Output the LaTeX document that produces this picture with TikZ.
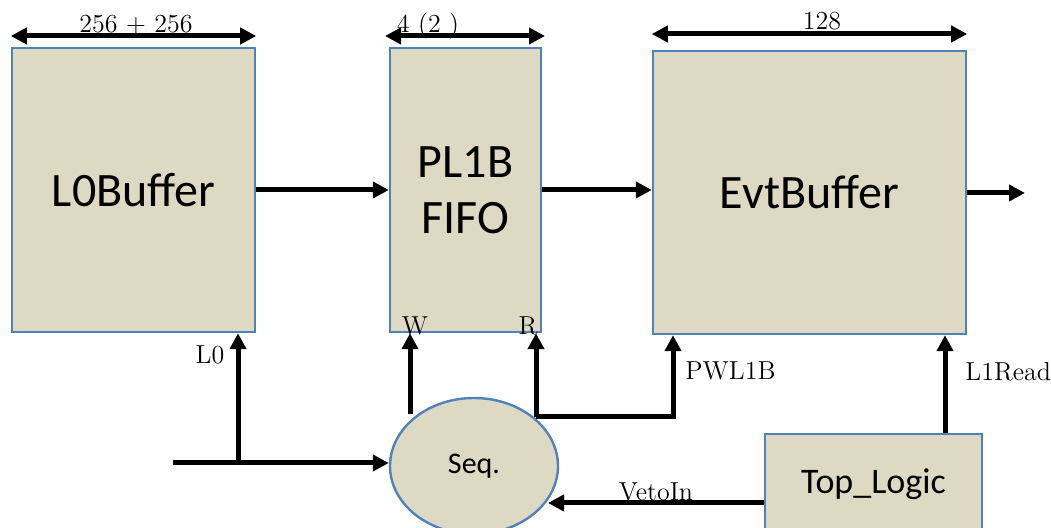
\documentclass[tikz,border=0pt]{standalone}
\usepackage{fontspec}
\newfontfamily\blkfont{Carlito}
\usepackage{tikz}
\usetikzlibrary{arrows.meta,shapes.geometric}
\definecolor{blkfill}{HTML}{DDD9C3}
\definecolor{blkline}{HTML}{4F81BD}
\tikzset{
  >={Triangle[length=8pt,width=8pt]},
  blk/.style={draw=blkline, line width=1.2pt, fill=blkfill, inner sep=0pt, align=center,
    font=\blkfont\fontsize{24}{28}\selectfont},
  sig/.style={draw=black, line width=2.5pt, ->},
  dim/.style={draw=black, line width=2.5pt, <->},
  lab/.style={font=\fontsize{13}{15}\selectfont, inner sep=1pt},
}
\begin{document}
\begin{tikzpicture}[x=0.5pt,y=-0.5pt]
\useasboundingbox (0,0) rectangle (1051,528);
% blocks
\node[blk, minimum width=121.5pt, minimum height=142pt] (l0buf) at (133.5,190) {L0Buffer};
\node[blk, minimum width=75.5pt, minimum height=142pt] (fifo) at (465.5,190) {PL1B\\FIFO};
\node[blk, minimum width=156.5pt, minimum height=141.5pt] (evtbuf) at (809.5,192.5) {EvtBuffer};
\node[blk, minimum width=108.5pt, minimum height=50pt, font=\blkfont\fontsize{18}{22}\selectfont] (toplogic) at (873.5,484) {Top\_Logic};
\node[blk, ellipse, minimum width=84pt, minimum height=68pt, font=\blkfont\fontsize{15}{18}\selectfont] (seq) at (474,466) {Seq.};
% sizes
\coordinate (d1) at (0,36); \coordinate (d2) at (0,34);
\draw[dim] (l0buf.west |- d1) -- (l0buf.east |- d1);
\draw[dim] (385,36) coordinate (d2a) -- (545,36) coordinate (d2b);
\draw[dim] (evtbuf.west |- d2) -- (evtbuf.east |- d2);
\node[lab, anchor=base] (w1) at (136,33) {256 + 256};
\node[lab, anchor=base] (w2) at (428,33) {4 (2 )};
\node[lab, anchor=base] (w3) at (822,30) {128};
% data path
\coordinate (out) at (1025,193);
\draw[sig] (l0buf.east) -- (fifo.west);
\draw[sig] (fifo.east) -- (fifo.east -| evtbuf.west);
\draw[sig] (evtbuf.east |- out) -- (out);
% control
\coordinate (in) at (173,463);
\coordinate (br) at (238,463);
\coordinate (wsrc) at (410,414);
\coordinate (rsrc) at (536,417);
\coordinate (pw) at (673,0);
\coordinate (l1) at (945,0);
\coordinate (veto) at (548,503);
\draw[sig] (in) -- (in -| seq.west);
\draw[sig] (br) -- (br |- l0buf.south);
\draw[sig] (wsrc) -- (wsrc |- fifo.south);
\draw[sig] (rsrc) -- (rsrc |- fifo.south);
\draw[sig] (rsrc) -| (pw |- evtbuf.south);
\draw[sig] (l1 |- toplogic.north) -- (l1 |- evtbuf.south);
\draw[sig] (veto -| toplogic.west) -- (veto);
% signal names
\node[lab] (l0lab) at (210,355) {L0};
\node[lab] (wlab) at (415,326) {W};
\node[lab] (rlab) at (528,326) {R};
\node[lab, anchor=west] (pwlab) at (683,371) {PWL1B};
\node[lab, anchor=west] (l1lab) at (963,372) {L1Read};
\node[lab] (vetolab) at (656,492) {VetoIn};
\end{tikzpicture}
\end{document}
